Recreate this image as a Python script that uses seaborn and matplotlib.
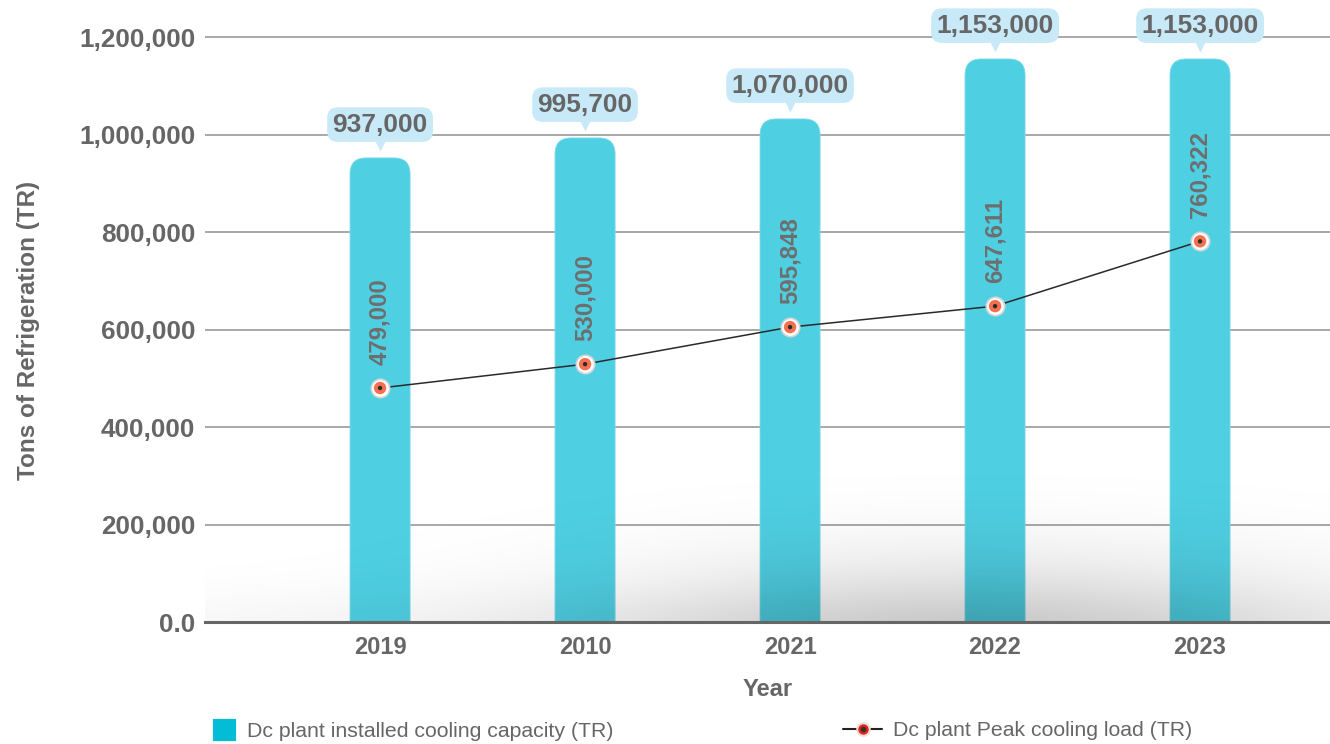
import numpy as np
import pandas as pd
import matplotlib
matplotlib.use('Agg')
import matplotlib.pyplot as plt
import matplotlib.transforms as mtransforms
from matplotlib.patches import FancyBboxPatch, Patch
from matplotlib.lines import Line2D
from matplotlib.legend_handler import HandlerTuple
import seaborn as sns

# 数据
years = ['2019', '2010', '2021', '2022', '2023']
capacity_drawn = [952000, 993000, 1032000, 1155000, 1155000]   # 柱子实际高度
capacity_labels = ['937,000', '995,700', '1,070,000', '1,153,000', '1,153,000']
peak_drawn = [480000, 529000, 605000, 648000, 781000]          # 折线点实际位置
peak_labels = ['479,000', '530,000', '595,848', '647,611', '760,322']
y_ticks = [0, 200000, 400000, 600000, 800000, 1000000, 1200000]
y_tick_labels = ['0.0', '200,000', '400,000', '600,000', '800,000', '1,000,000', '1,200,000']

BAR_COLOR = '#4fcfe2'
BUBBLE_COLOR = '#c8eaf8'
TEXT_COLOR = '#666666'

sns.set_style('white')
plt.rcParams['font.family'] = ['Liberation Sans', 'DejaVu Sans']

W, H = 1330, 744
fig = plt.figure(figsize=(W / 100, H / 100), dpi=100)
ax = fig.add_axes([205 / W, 122 / H, 1125 / W, 622 / H])

df = pd.DataFrame({'year': years, 'capacity': capacity_drawn, 'peak': peak_drawn})

# 柱状图
bar_w = 0.293
sns.barplot(data=df, x='year', y='capacity', color=BAR_COLOR, width=bar_w,
            saturation=1, ax=ax, zorder=1)

xlim = (-0.854, 4.634)
ylim = (0, 1276000)
ax.set_xlim(xlim)
ax.set_ylim(ylim)

# 把柱子换成圆角矩形
x_per_px = (xlim[1] - xlim[0]) / 1125
y_per_px = (ylim[1] - ylim[0]) / 622
aspect = y_per_px / x_per_px
for p in list(ax.patches):
    x0, w, h = p.get_x(), p.get_width(), p.get_height()
    p.set_visible(False)
    rb = FancyBboxPatch((x0, -60000), w, h + 60000,
                        boxstyle=f'round,pad=0,rounding_size={16 * x_per_px}',
                        mutation_aspect=aspect, fc=BAR_COLOR, ec='#7ddbe9',
                        lw=0.6, zorder=1)
    ax.add_patch(rb)

# 底部阴影
xs = np.linspace(205, 1330, 400)
ys = np.linspace(0, 622, 300)
XX, YY = np.meshgrid(xs, ys)
alpha = 0.17 * np.exp(-((XX - 980) / 380) ** 2 - ((YY - 640) / 85) ** 2)
alpha += 0.05 * np.exp(-((XX - 800) / 800) ** 2 - ((YY - 630) / 40) ** 2)
shade = np.zeros((len(ys), len(xs), 4))
shade[..., 3] = np.clip(alpha, 0, 1)
ax.imshow(shade, extent=[0, 1, 0, 1], transform=ax.transAxes, aspect='auto',
          origin='upper', zorder=1.5, interpolation='bilinear')
ax.set_xlim(xlim)
ax.set_ylim(ylim)

# 折线 + 标记
pos = np.arange(len(years))
sns.lineplot(x=pos, y=peak_drawn, color='#2a2a2a', lw=1.1, ax=ax, zorder=3,
             sort=False)
ax.scatter(pos, peak_drawn, s=175, c='white', edgecolors='#d5d5d5', lw=1.2, zorder=4)
ax.scatter(pos, peak_drawn, s=80, c='#f4704f', edgecolors='none', zorder=5)
ax.scatter(pos, peak_drawn, s=10, c='#2b2b2b', edgecolors='none', zorder=6)

# 竖排数值标签
for i, (v, lab) in enumerate(zip(peak_drawn, peak_labels)):
    ax.annotate(lab, (i, v), xytext=(0, 16.5), textcoords='offset points',
                rotation=90, ha='center', va='bottom', fontsize=17.3,
                fontweight='bold', color='#6e6e6e', zorder=7)

# 气泡标签
tri_tr = mtransforms.offset_copy(ax.transData, fig=fig, x=0, y=9, units='points')
for i, (v, lab) in enumerate(zip(capacity_drawn, capacity_labels)):
    ax.plot([i], [v], marker='v', ms=8, color=BUBBLE_COLOR, mec='none',
            transform=tri_tr, zorder=7, clip_on=False)
    ax.annotate(lab, (i, v), xytext=(0, 24), textcoords='offset points',
                ha='center', va='center', fontsize=19, fontweight='bold',
                color=TEXT_COLOR, zorder=8, annotation_clip=False,
                bbox=dict(boxstyle='round,pad=0.2,rounding_size=0.4',
                          fc=BUBBLE_COLOR, ec='none'))

# 坐标轴
ax.set_yticks(y_ticks)
ax.set_yticklabels(y_tick_labels)
ax.set_xticks(pos)
ax.set_xticklabels(years)
ax.tick_params(axis='y', length=0, pad=7, labelsize=18.8, labelcolor=TEXT_COLOR)
ax.tick_params(axis='x', length=0, pad=10, labelsize=17, labelcolor=TEXT_COLOR)
for t in ax.get_yticklabels() + ax.get_xticklabels():
    t.set_fontweight('bold')

for y in y_ticks[1:]:
    ax.axhline(y, color='#9a9a9a', lw=1.2, zorder=0.5)

sns.despine(ax=ax, left=True, top=True, right=True)
ax.spines['bottom'].set_color('#666666')
ax.spines['bottom'].set_linewidth(2.2)
ax.spines['bottom'].set_zorder(9)

ax.set_xlabel('Year', fontsize=17, fontweight='bold', color=TEXT_COLOR, labelpad=14)
ax.set_ylabel('Tons of Refrigeration (TR)', fontsize=17.5, fontweight='bold',
              color=TEXT_COLOR)
ax.yaxis.set_label_coords(-0.147, (622 - 330) / 622)

# 图例
h1 = Patch(fc='#03bcd6', ec='#03bcd6', lw=3, joinstyle='round')
fig.legend([h1], ['Dc plant installed cooling capacity (TR)'],
           loc='center left', bbox_to_anchor=(215 / W, 13 / H), frameon=False,
           fontsize=15.3, labelcolor=TEXT_COLOR, handlelength=0.9,
           handleheight=0.9, handletextpad=0.6, borderpad=0, borderaxespad=0)
h2a = Line2D([], [], color='#222222', lw=1.5, marker='o', ms=9,
             mfc='#e3241b', mec='#f5d9d3', mew=1.5)
h2b = Line2D([], [], ls='none', marker='o', ms=3, color='#333333')
fig.legend([(h2a, h2b)], ['Dc plant Peak cooling load (TR)'],
           handler_map={tuple: HandlerTuple(ndivide=1)},
           loc='center left', bbox_to_anchor=(843 / W, 13 / H), frameon=False,
           fontsize=15.3, labelcolor=TEXT_COLOR, handlelength=1.85,
           handletextpad=0.5, borderpad=0, borderaxespad=0)

fig.savefig('out.png', dpi=100)
